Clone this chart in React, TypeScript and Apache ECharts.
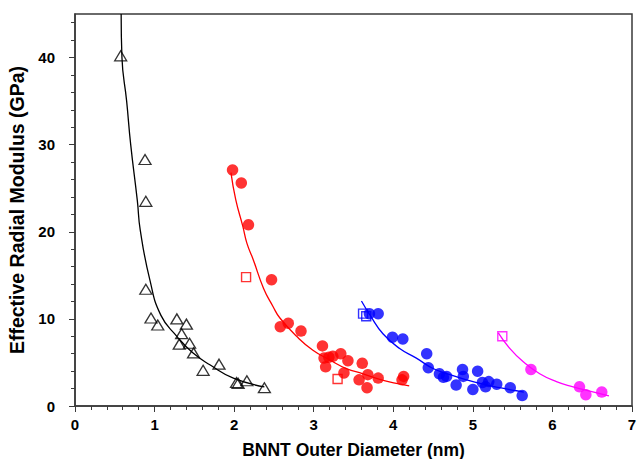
import React, { useEffect, useRef } from "react";
import * as echarts from "echarts";

// ---- data ----
const blackTriangles: number[][] = [
  [0.574, 40.2], [0.88, 28.3], [0.89, 23.5], [0.89, 13.4], [0.955, 10.1], [1.04, 9.3],
  [1.28, 10.0], [1.40, 9.4], [1.34, 8.3], [1.31, 7.1], [1.44, 7.2], [1.49, 6.1],
  [1.61, 4.1], [1.81, 4.8], [2.03, 2.7], [2.05, 2.6], [2.16, 2.9], [2.38, 2.1],
];
const blackFit: number[][] = [
  [0.58, 45], [0.59, 40], [0.649, 35], [0.70, 30], [0.783, 23.6], [0.82, 20.2],
  [0.94, 14.5], [1.08, 10.4], [1.28, 8.0], [1.48, 6.1], [1.70, 4.7], [1.99, 3.2], [2.38, 2.2],
];

const redCircles: number[][] = [
  [1.98, 27.1], [2.09, 25.6], [2.18, 20.8], [2.47, 14.5], [2.58, 9.1], [2.68, 9.5],
  [2.84, 8.6], [3.11, 6.9], [3.13, 5.5], [3.19, 5.6], [3.24, 5.7], [3.34, 6.0],
  [3.15, 4.5], [3.43, 5.2], [3.61, 4.9], [3.38, 3.8], [3.68, 3.6], [3.81, 3.2],
  [3.57, 3.0], [3.67, 2.1], [4.13, 3.4], [4.11, 3.0],
];
const redSquares: number[][] = [[2.15, 14.8], [3.30, 3.1]];
const redFit: number[][] = [
  [1.96, 26.8], [2.02, 23.7], [2.11, 20.6], [2.16, 18.7], [2.24, 16.8], [2.37, 13.5],
  [2.49, 11.4], [2.575, 10.1], [2.785, 8.0], [2.99, 6.4], [3.20, 5.3], [3.41, 4.3],
  [3.62, 3.7], [3.83, 3.05], [4.04, 2.6], [4.20, 2.3],
];

const blueCircles: number[][] = [
  [3.70, 10.6], [3.81, 10.6], [3.99, 7.9], [4.12, 7.7], [4.42, 6.0], [4.44, 4.4],
  [4.58, 3.7], [4.63, 3.3], [4.67, 3.4], [4.87, 4.2], [4.88, 3.4], [5.06, 4.0],
  [4.79, 2.4], [5.00, 1.9], [5.12, 2.7], [5.20, 2.8], [5.16, 2.2], [5.30, 2.5],
  [5.47, 2.1], [5.62, 1.2],
];
const blueSquares: number[][] = [[3.62, 10.6], [3.66, 10.3]];
const blueFit: number[][] = [
  [3.60, 12.05], [3.71, 10.4], [3.87, 8.3], [4.08, 6.6], [4.29, 5.5], [4.50, 4.3],
  [4.71, 3.6], [4.92, 3.0], [5.13, 2.5], [5.34, 2.1], [5.55, 1.75], [5.64, 1.6],
];

const magentaCircles: number[][] = [[5.73, 4.2], [6.34, 2.2], [6.42, 1.3], [6.62, 1.6]];
const magentaSquares: number[][] = [[5.37, 8.0]];
const magentaFit: number[][] = [
  [5.32, 8.4], [5.465, 6.6], [5.63, 5.1], [5.84, 3.7], [6.05, 2.8], [6.26, 2.2],
  [6.47, 1.7], [6.71, 1.15],
];

const yMajorTicks = [0, 10, 20, 30, 40];
const yMinorTicks = [2, 4, 6, 8, 12, 14, 16, 18, 22, 24, 26, 28, 32, 34, 36, 38, 42, 44];

const FONT = "'Liberation Sans', Arial, sans-serif";
const AXIS_COLOR = "#3a3a3a";

function fitLine(data: number[][], color: string) {
  return {
    type: "line",
    data,
    smooth: true,
    showSymbol: false,
    symbol: "none",
    lineStyle: { color, width: 1.3 },
    z: 2,
  };
}
function circles(data: number[][], color: string) {
  return {
    type: "scatter",
    data,
    symbol: "circle",
    symbolSize: 11.5,
    itemStyle: { color },
    z: 3,
  };
}
function squares(data: number[][], color: string) {
  return {
    type: "scatter",
    data,
    symbol: "rect",
    symbolSize: 9,
    itemStyle: { color: "rgba(0,0,0,0)", borderColor: color, borderWidth: 1.4 },
    z: 4,
  };
}

export default function App() {
  const ref = useRef<HTMLDivElement>(null);
  useEffect(() => {
    if (!ref.current) return;
    const chart = echarts.init(ref.current, null, { renderer: "svg" });
    chart.setOption({
      animation: false,
      backgroundColor: "#ffffff",
      grid: {
        left: 75,
        right: 5,
        top: 14,
        bottom: 53,
        outerBoundsMode: "none",
        containLabel: false,
        show: true,
        borderColor: AXIS_COLOR,
        borderWidth: 1.5,
        backgroundColor: "rgba(0,0,0,0)",
      },
      xAxis: {
        type: "value",
        min: 0,
        max: 7,
        interval: 1,
        name: "BNNT Outer Diameter (nm)",
        nameLocation: "middle",
        nameGap: 35,
        nameTextStyle: { fontFamily: FONT, fontWeight: "bold", fontSize: 17.5, color: "#000" },
        axisLine: { lineStyle: { color: AXIS_COLOR, width: 1.5 } },
        axisTick: { show: true, inside: false, length: 6, lineStyle: { color: AXIS_COLOR, width: 1 } },
        minorTick: { show: true, splitNumber: 5, length: 4, lineStyle: { color: AXIS_COLOR, width: 1 } },
        axisLabel: { fontFamily: FONT, fontWeight: "bold", fontSize: 15, color: "#000", margin: 11 },
        splitLine: { show: false },
      },
      yAxis: [
        {
          type: "value",
          min: 0,
          max: 45,
          interval: 10,
          name: "Effective Radial Modulus (GPa)",
          nameLocation: "middle",
          nameGap: 40,
          nameTextStyle: { fontFamily: FONT, fontWeight: "bold", fontSize: 19.5, color: "#000" },
          axisLine: { lineStyle: { color: AXIS_COLOR, width: 1.5 } },
          axisTick: {
            show: true,
            length: 6,
            customValues: yMajorTicks,
            lineStyle: { color: AXIS_COLOR, width: 1 },
          },
          axisLabel: {
            fontFamily: FONT,
            fontWeight: "bold",
            fontSize: 15,
            color: "#000",
            margin: 20,
            customValues: yMajorTicks,
          },
          splitLine: { show: false },
        },
        {
          type: "value",
          min: 0,
          max: 45,
          interval: 2,
          position: "left",
          axisLine: { show: false },
          axisTick: {
            show: true,
            length: 4,
            customValues: yMinorTicks,
            lineStyle: { color: AXIS_COLOR, width: 1 },
          },
          axisLabel: { show: false },
          splitLine: { show: false },
        },
      ],
      series: [
        fitLine(blackFit, "#000000"),
        fitLine(redFit, "#ff0000"),
        fitLine(blueFit, "#0000ff"),
        fitLine(magentaFit, "#ff00ff"),
        {
          type: "scatter",
          data: blackTriangles,
          symbol: "triangle",
          symbolSize: [12, 10],
          itemStyle: { color: "rgba(0,0,0,0)", borderColor: "#000", borderWidth: 1.3 },
          z: 3,
        },
        circles(redCircles, "#ff0000"),
        circles(blueCircles, "#0000ff"),
        circles(magentaCircles, "#ff00ff"),
        squares(redSquares, "#ff0000"),
        squares(blueSquares, "#0000ff"),
        squares(magentaSquares, "#ff00ff"),
      ],
    });
    return () => chart.dispose();
  }, []);
  return (
    <div
      ref={ref}
      style={{ position: "fixed", left: 0, top: 0, width: 637, height: 459 }}
    />
  );
}
